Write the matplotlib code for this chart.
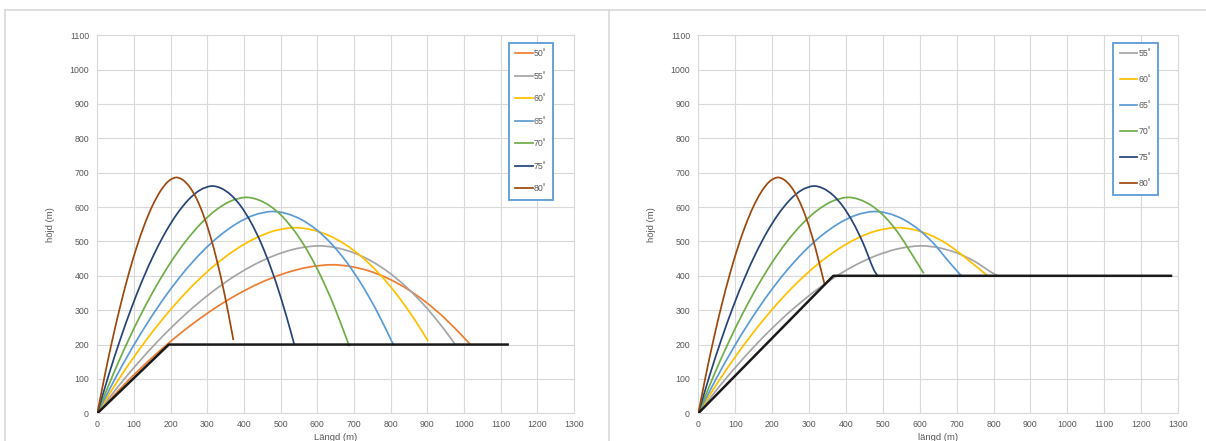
import matplotlib
matplotlib.use("Agg")
import matplotlib.pyplot as plt
from matplotlib.lines import Line2D
from matplotlib.path import Path
from matplotlib.patches import PathPatch

# ---------------- data ----------------
# trajectories (x in m, height in m)
x80 = [0, 21.4, 42.8, 64.2, 85.6, 107, 128.4, 149.8, 171.2, 192.6, 214, 232.9, 251.8, 270.7, 289.6, 308.5, 327.4, 346.3, 365.2, 371]
y80 = [0, 115.5, 221.8, 318.5, 405.4, 482.1, 548.0, 602.6, 645.0, 673.8, 686, 679.1, 658.6, 624.3, 576.2, 514.5, 439.0, 349.9, 247.0, 213]

x75 = [0, 31.1, 62.2, 93.3, 124.4, 155.5, 186.6, 217.7, 248.8, 279.9, 311, 338.1, 365.1, 392.2, 419.2, 446.3, 473.4, 500.4, 527.5, 537]
y75 = [0, 111.3, 213.7, 306.9, 390.7, 464.5, 528.0, 580.6, 621.5, 649.2, 661, 654.4, 634.6, 601.5, 555.2, 495.8, 423.0, 337.1, 238.0, 200]

x70 = [0, 40.3, 80.6, 120.9, 161.2, 201.5, 241.8, 282.1, 322.4, 362.7, 403, 437.2, 471.4, 505.6, 539.8, 574, 608.2, 642.4, 676.6, 687]
y70 = [0, 105.8, 203.0, 291.6, 371.1, 441.3, 501.6, 551.6, 590.4, 616.8, 628, 621.7, 602.9, 571.5, 527.5, 471, 401.9, 320.3, 226.1, 195]

x65 = [0, 47.5, 95, 142.5, 190, 237.5, 285, 332.5, 380, 427.5, 475, 515.9, 556.8, 597.7, 638.6, 679.5, 720.3, 761.2, 802.1, 807]
y65 = [0, 98.8, 189.8, 272.5, 346.9, 412.5, 468.9, 515.6, 551.9, 576.6, 587, 581.1, 563.5, 534.2, 493.1, 440.3, 375.7, 299.4, 211.3, 200]

x60 = [0, 53.5, 107, 160.5, 214, 267.5, 321, 374.5, 428, 481.5, 535, 582, 628.9, 675.9, 722.8, 769.8, 816.7, 863.7, 902]
y60 = [0, 90.9, 174.6, 250.7, 319.1, 379.5, 431.4, 474.3, 507.7, 530.4, 540, 534.6, 518.4, 491.4, 453.6, 405, 345.6, 275.4, 210]

x55 = [0, 60, 120, 180, 240, 300, 360, 420, 480, 540, 600, 649, 698, 746.9, 795.9, 844.9, 893.9, 942.9, 976]
y55 = [0, 82.0, 157.4, 226.1, 287.8, 342.2, 389.0, 427.8, 457.9, 478.3, 487, 482.1, 467.5, 443.2, 409.1, 365.3, 311.7, 248.4, 200]

x50 = [0, 63.5, 127, 190.5, 254, 317.5, 381, 444.5, 508, 571.5, 635, 687.1, 739.2, 791.3, 843.4, 895.5, 947.6, 999.7, 1017]
y50 = [0, 72.7, 139.7, 200.6, 255.3, 303.6, 345.1, 379.5, 406.2, 424.3, 432, 427.7, 414.7, 393.1, 362.9, 324, 276.5, 220.3, 200]

# terrain profiles
ground1_x = [0, 195, 1119]
ground1_y = [0, 200, 200]
ground2_x = [0, 366, 1281]
ground2_y = [0, 400, 400]

# landing points on the higher terrain (right chart)
land2 = {"55˚": (813, 400), "60˚": (784, 400), "65˚": (713, 400),
         "70˚": (611, 407), "75˚": (486, 400), "80˚": (342, 376)}

labels = ["50˚", "55˚", "60˚", "65˚", "70˚", "75˚", "80˚"]
colors = ["#ED7D31", "#A5A5A5", "#FFC000", "#5B9BD5", "#70AD47", "#264478", "#9E480E"]

series1 = {
    "50˚": (x50, y50), "55˚": (x55, y55), "60˚": (x60, y60), "65˚": (x65, y65),
    "70˚": (x70, y70), "75˚": (x75, y75), "80˚": (x80, y80),
}
# number of trajectory points kept before the landing point (right chart)
keep2 = {"55˚": 15, "60˚": 15, "65˚": 16, "70˚": 16, "75˚": 17, "80˚": 17}

xticks = list(range(0, 1301, 100))
yticks = list(range(0, 1101, 100))

# ---------------- figure ----------------
plt.rcParams["font.family"] = ["Liberation Sans Narrow", "Liberation Sans", "DejaVu Sans"]
W, H = 1206, 441
fig = plt.figure(figsize=(W / 100, H / 100), dpi=100)
fig.patch.set_facecolor("white")

border = "#D9D9D9"
fig.add_artist(Line2D([5 / W, 1], [1 - 9.5 / H, 1 - 9.5 / H], color=border, lw=1.2, transform=fig.transFigure))
fig.add_artist(Line2D([5 / W, 5 / W], [0, 1 - 9.5 / H], color=border, lw=1.2, transform=fig.transFigure))
fig.add_artist(Line2D([609 / W, 609 / W], [0, 1 - 9.5 / H], color=border, lw=1.2, transform=fig.transFigure))

txtcol = "#595959"
fs = 6.3


def style_axes(ax):
    ax.set_xlim(0, 1300)
    ax.set_ylim(0, 1100)
    ax.set_xticks(xticks)
    ax.set_yticks(yticks)
    ax.grid(True, color="#D9D9D9", lw=0.8, zorder=0)
    ax.set_axisbelow(True)
    for s in ax.spines.values():
        s.set_visible(False)
    ax.tick_params(length=0, labelsize=fs, labelcolor=txtcol)
    ax.tick_params(axis="x", pad=5)
    ax.tick_params(axis="y", pad=6)
    for gl in ax.get_xgridlines() + ax.get_ygridlines():
        gl.set_clip_on(False)


def smooth_line(ax, xs, ys, color, lw, zorder=3):
    """Excel-style smoothed line: Catmull-Rom segments drawn as cubic Bezier path."""
    pts = list(zip(xs, ys))
    n = len(pts)
    verts = [pts[0]]
    codes = [Path.MOVETO]
    for i in range(n - 1):
        p0 = pts[i - 1] if i > 0 else pts[i]
        p1 = pts[i]
        p2 = pts[i + 1]
        p3 = pts[i + 2] if i + 2 < n else pts[i + 1]
        c1 = (p1[0] + (p2[0] - p0[0]) / 6.0, p1[1] + (p2[1] - p0[1]) / 6.0)
        c2 = (p2[0] - (p3[0] - p1[0]) / 6.0, p2[1] - (p3[1] - p1[1]) / 6.0)
        verts += [c1, c2, p2]
        codes += [Path.CURVE4, Path.CURVE4, Path.CURVE4]
    patch = PathPatch(Path(verts, codes), facecolor="none", edgecolor=color,
                      lw=lw, zorder=zorder, capstyle="butt", joinstyle="round")
    ax.add_patch(patch)
    return Line2D([], [], color=color, lw=lw)


bottom = (H - 413.3) / H
height = (413.3 - 35.2) / H

ax1 = fig.add_axes([97.3 / W, bottom, (574.0 - 97.3) / W, height])
ax2 = fig.add_axes([698.3 / W, bottom, (1178.0 - 698.3) / W, height])
style_axes(ax1)
style_axes(ax2)

lw = 1.25
handles1 = []
for lab, col in zip(labels, colors):
    xs, ys = series1[lab]
    h = smooth_line(ax1, xs, ys, col, lw)
    h.set_label(lab)
    handles1.append(h)
ax1.plot(ground1_x, ground1_y, color="#1A1A1A", lw=1.8, zorder=4)

handles2 = []
for lab, col in zip(labels, colors):
    if lab not in land2:
        continue
    xs, ys = series1[lab]
    k = keep2[lab]
    lx, ly = land2[lab]
    h = smooth_line(ax2, list(xs[:k]) + [lx], list(ys[:k]) + [ly], col, lw)
    h.set_label(lab)
    handles2.append(h)
ax2.plot(ground2_x, ground2_y, color="#1A1A1A", lw=1.8, zorder=4)

ax1.set_xlabel("Längd (m)", fontsize=fs + 0.5, color=txtcol, labelpad=3)
ax1.set_ylabel("höjd (m)", fontsize=fs + 0.5, color=txtcol, labelpad=10)
ax2.set_xlabel("längd (m)", fontsize=fs + 0.5, color=txtcol, labelpad=3)
ax2.set_ylabel("höjd (m)", fontsize=fs + 0.5, color=txtcol, labelpad=10)


def make_legend(handles, x0, spacing):
    leg = fig.legend(handles=handles, loc="upper left",
                     bbox_to_anchor=(x0 / W, 1 - 42.5 / H), bbox_transform=fig.transFigure,
                     fontsize=fs, frameon=True, fancybox=False, framealpha=1,
                     handlelength=2.0, handletextpad=0.15, labelspacing=spacing,
                     borderpad=0.75, borderaxespad=0, labelcolor=txtcol)
    fr = leg.get_frame()
    fr.set_edgecolor("#5B9BD5")
    fr.set_linewidth(1.3)
    return leg


make_legend(handles1, 508.5, 1.55)
make_legend(handles2, 1113, 1.95)

fig.savefig("out.png", dpi=100)
